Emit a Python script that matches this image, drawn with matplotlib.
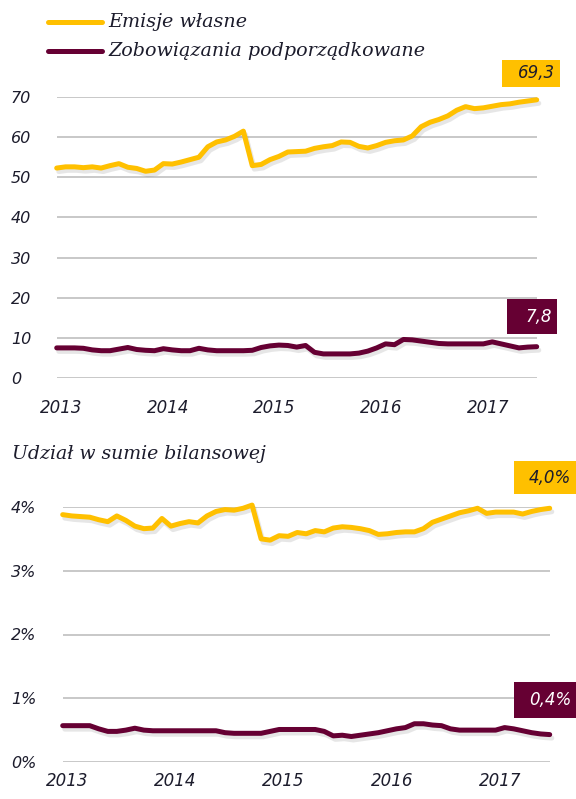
import matplotlib
matplotlib.use("Agg")
import matplotlib.pyplot as plt
import matplotlib.patheffects as pe
from matplotlib.patches import Rectangle
import numpy as np

# ---------------- data (monthly, Dec 2012 - Jun 2017) ----------------
years = ["2013", "2014", "2015", "2016", "2017"]
year_tick_pos = [0.5, 12.5, 24.5, 36.5, 48.5]

emisje = [52.3, 52.6, 52.6, 52.4, 52.6, 52.3, 52.9, 53.4, 52.5, 52.2,
          51.5, 51.8, 53.4, 53.3, 53.8, 54.4, 55.0, 57.6, 58.8, 59.3,
          60.2, 61.5, 52.9, 53.2, 54.4, 55.2, 56.3, 56.4, 56.5, 57.2,
          57.6, 57.9, 58.8, 58.7, 57.7, 57.3, 57.9, 58.7, 59.1, 59.3,
          60.3, 62.6, 63.7, 64.4, 65.3, 66.7, 67.6, 67.1, 67.3, 67.7,
          68.1, 68.3, 68.7, 69.0, 69.3]
zobow = [7.5, 7.5, 7.5, 7.4, 7.0, 6.8, 6.8, 7.2, 7.6, 7.1,
         6.9, 6.8, 7.3, 7.0, 6.8, 6.8, 7.4, 7.0, 6.8, 6.8,
         6.8, 6.8, 6.9, 7.6, 8.0, 8.2, 8.1, 7.7, 8.1, 6.4,
         6.0, 6.0, 6.0, 6.0, 6.2, 6.7, 7.5, 8.5, 8.3, 9.6,
         9.5, 9.2, 8.9, 8.6, 8.5, 8.5, 8.5, 8.5, 8.5, 9.0,
         8.5, 8.0, 7.5, 7.7, 7.8]
emisje_pct = [3.88, 3.86, 3.85, 3.84, 3.80, 3.77, 3.86, 3.79, 3.70, 3.66,
              3.67, 3.82, 3.70, 3.74, 3.77, 3.75, 3.86, 3.93, 3.96, 3.95,
              3.98, 4.03, 3.50, 3.48, 3.55, 3.54, 3.60, 3.58, 3.63, 3.61,
              3.67, 3.69, 3.68, 3.66, 3.63, 3.57, 3.58, 3.60, 3.61, 3.61,
              3.66, 3.76, 3.81, 3.86, 3.91, 3.94, 3.98, 3.90, 3.92, 3.92,
              3.92, 3.89, 3.93, 3.96, 3.98]
zobow_pct = [0.57, 0.57, 0.57, 0.57, 0.52, 0.48, 0.48, 0.50, 0.53, 0.50,
             0.49, 0.49, 0.49, 0.49, 0.49, 0.49, 0.49, 0.49, 0.46, 0.45,
             0.45, 0.45, 0.45, 0.48, 0.51, 0.51, 0.51, 0.51, 0.51, 0.48,
             0.41, 0.42, 0.40, 0.42, 0.44, 0.46, 0.49, 0.52, 0.54, 0.60,
             0.60, 0.58, 0.57, 0.52, 0.50, 0.50, 0.50, 0.50, 0.50, 0.54,
             0.52, 0.49, 0.46, 0.44, 0.43]

top_ticks = [0, 10, 20, 30, 40, 50, 60, 70]
top_ticklabels = ["0", "10", "20", "30", "40", "50", "60", "70"]
bot_ticks = [0, 1, 2, 3, 4]
bot_ticklabels = ["0%", "1%", "2%", "3%", "4%"]

series_names = ["Emisje własne", "Zobowiązania podporządkowane"]
last_labels_top = ["69,3", "7,8"]
last_labels_bot = ["4,0%", "0,4%"]
subtitle = "Udział w sumie bilansowej"

# ---------------- style ----------------
YEL = "#FFC000"
MAR = "#660033"
TXT = "#1c1c2c"
GRID = "#c4c4c4"
W, H = 576, 799
fig = plt.figure(figsize=(W / 100, H / 100), dpi=100)

def fx(px):
    return px / W

def fy(py):
    return 1 - py / H

shadow = [pe.SimpleLineShadow(offset=(1.5, -2.5), shadow_color="#777777", alpha=0.18),
          pe.Normal()]

x = np.arange(len(emisje))

def setup(ax, ticks, labels, pad_y):
    ax.set_xlim(0, len(x) - 1)
    for s in ax.spines.values():
        s.set_visible(False)
    ax.set_yticks(ticks)
    ax.set_yticklabels(labels)
    for lab in ax.get_yticklabels():
        lab.set_horizontalalignment("left")
        lab.set_fontstyle("italic")
        lab.set_fontsize(11.5)
        lab.set_color(TXT)
    ax.tick_params(axis="y", length=0, pad=pad_y)
    ax.set_xticks(year_tick_pos)
    ax.set_xticklabels(years, fontstyle="italic", fontsize=12, color=TXT)
    ax.tick_params(axis="x", length=0)
    ax.grid(axis="y", color=GRID, lw=1.3)
    ax.set_axisbelow(True)

line_kw = dict(lw=3.6, solid_joinstyle="round", solid_capstyle="round",
               path_effects=shadow, clip_on=False, zorder=3)

# top axes
ax1 = fig.add_axes([fx(56.7), fy(378), fx(480), (378 - 97) / H])
ax1.set_ylim(0, 70)
setup(ax1, top_ticks, top_ticklabels, (56.7 - 11) * 0.72)
ax1.tick_params(axis="x", pad=15)
ax1.plot(x, emisje, color=YEL, **line_kw)
ax1.plot(x, zobow, color=MAR, **line_kw)

# bottom axes
ax2 = fig.add_axes([fx(62.7), fy(762), fx(487), (762 - 507) / H])
ax2.set_ylim(0, 4)
setup(ax2, bot_ticks, bot_ticklabels, (62.7 - 11) * 0.72)
ax2.tick_params(axis="x", pad=7)
ax2.plot(x, emisje_pct, color=YEL, **line_kw)
ax2.plot(x, zobow_pct, color=MAR, **line_kw)

# legend
serif = ["DejaVu Serif"]
for i, (name, col) in enumerate(zip(series_names, [YEL, MAR])):
    yy = [22, 51][i]
    fig.add_artist(plt.Line2D([fx(48), fx(102)], [fy(yy), fy(yy)], color=col, lw=3.6,
                              solid_capstyle="round", transform=fig.transFigure))
    fig.text(fx(108), fy(yy), name, fontsize=13.8, fontstyle="italic", family=serif,
             color=TXT, va="center", ha="left")

fig.text(fx(12), fy(454), subtitle, fontsize=13.6, fontstyle="italic", family=serif,
         color=TXT, va="center", ha="left")

# value boxes
def box(x0, y0, x1, y1, color, text, tcolor):
    fig.add_artist(Rectangle((fx(x0), fy(y1)), fx(x1 - x0), (y1 - y0) / H,
                             transform=fig.transFigure, facecolor=color, edgecolor="none"))
    fig.text(fx(x1 - 5), fy((y0 + y1) / 2), text, fontsize=12, fontstyle="italic",
             color=tcolor, ha="right", va="center")

box(502, 60, 560, 87, YEL, last_labels_top[0], TXT)
box(507, 299, 557, 334, MAR, last_labels_top[1], "white")
box(514, 461, 576, 494, YEL, last_labels_bot[0], TXT)
box(514, 682, 576, 718, MAR, last_labels_bot[1], "white")

fig.savefig("out.png", dpi=100)
